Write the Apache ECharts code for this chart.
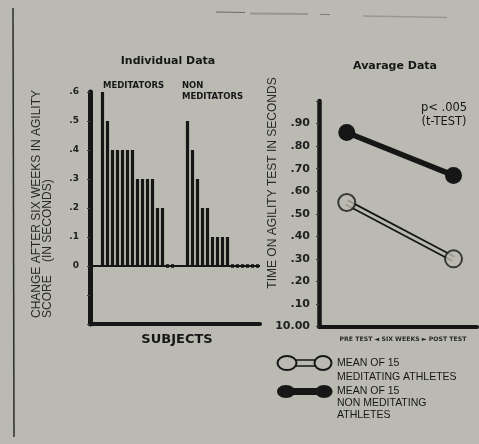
<!DOCTYPE html>
<html>
<head>
<meta charset="utf-8">
<script src="https://cdn.jsdelivr.net/npm/echarts@6/dist/echarts.min.js"></script>
<style>
  html, body { margin: 0; padding: 0; background: #bbbab2; }
  #chart { width: 479px; height: 444px; }
</style>
</head>
<body>
<div id="chart"></div>
<script>
// Change in agility score after six weeks, one bar per subject (seconds)
const meditators = [0.6, 0.5, 0.4, 0.4, 0.4, 0.4, 0.4, 0.3, 0.3, 0.3, 0.3, 0.2, 0.2, 0, 0];
const nonMeditators = [0.5, 0.4, 0.3, 0.2, 0.2, 0.1, 0.1, 0.1, 0.1, 0, 0, 0, 0, 0, 0];
const changeTicks = ['0', '.1', '.2', '.3', '.4', '.5', '.6'];

// Group mean agility-test time, in seconds above 10.00
const phases = ['PRE TEST', 'POST TEST'];
const meanMeditating = [0.55, 0.30];
const meanNonMeditating = [0.86, 0.67];
const timeTicks = ['10.00', '.10', '.20', '.30', '.40', '.50', '.60', '.70', '.80', '.90'];

const BG = '#bbbab2';
const INK = '#161616';
const LEAD_SLOTS = 2;   // empty slots before the first group
const GROUP_GAP = 2;    // empty slots between the two groups

// One category slot per subject, with padding slots around the groups
const slotNames = [];
const slotValues = [];
for (let i = 0; i < LEAD_SLOTS; i++) { slotNames.push('lead' + i); slotValues.push('-'); }
meditators.forEach((v, i) => { slotNames.push('M' + (i + 1)); slotValues.push(v); });
for (let i = 0; i < GROUP_GAP; i++) { slotNames.push('gap' + i); slotValues.push('-'); }
nonMeditators.forEach((v, i) => { slotNames.push('N' + (i + 1)); slotValues.push(v); });
const zeroMarks = slotValues.map(v => (v === 0 ? 0 : '-'));

// x position 0 = pre test, 1 = post test
const toPairs = arr => arr.map((v, i) => [i, v]);
const medPairs = toPairs(meanMeditating);
const nonMedPairs = toPairs(meanNonMeditating);

const chart = echarts.init(document.getElementById('chart'), null, { renderer: 'canvas' });

const txt = (text, x, y, o) => ({
  type: 'text', x, y, rotation: o.rotation || 0, silent: true,
  style: Object.assign({
    text, fill: INK, fontFamily: 'DejaVu Sans', fontSize: 11, fontWeight: 'normal',
    align: o.align || 'center', verticalAlign: 'middle',
    textAlign: o.align || 'center', textVerticalAlign: 'middle'
  }, o.style || {})
});

const option = {
  backgroundColor: BG,
  animation: false,
  grid: [
    { left: 90, top: 92, width: 170, height: 232 },
    { left: 319, top: 101, right: 2, height: 225.5 }
  ],
  xAxis: [
    {
      gridIndex: 0, type: 'category', data: slotNames, position: 'bottom',
      axisLine: { onZero: false, lineStyle: { color: INK, width: 4 } },
      axisTick: { show: false }, axisLabel: { show: false }, splitLine: { show: false }
    },
    {
      gridIndex: 1, type: 'value', min: -0.26, max: 1.22,
      axisLine: { onZero: false, lineStyle: { color: INK, width: 4 } },
      axisTick: { show: false }, axisLabel: { show: false }, splitLine: { show: false }
    }
  ],
  yAxis: [
    {
      gridIndex: 0, type: 'value', min: -0.2, max: 0.6, interval: 0.1,
      axisLine: { show: true, onZero: false, lineStyle: { color: INK, width: 5 } },
      axisTick: { show: true, length: 3, lineStyle: { color: '#3a3a3a', width: 1 } },
      splitLine: { show: false },
      axisLabel: {
        margin: 11, color: '#202020', fontFamily: 'DejaVu Sans', fontWeight: 'bold', fontSize: 9,
        formatter: v => { const k = Math.round(v * 10); return k >= 0 ? (changeTicks[k] || '') : ''; }
      }
    },
    {
      gridIndex: 1, type: 'value', min: 0, max: 1, interval: 0.1,
      axisLine: { show: true, onZero: false, lineStyle: { color: INK, width: 4.5 } },
      axisTick: { show: true, length: 3, lineStyle: { color: '#3a3a3a', width: 1 } },
      splitLine: { show: false },
      axisLabel: {
        margin: 9, color: '#202020', fontFamily: 'DejaVu Sans', fontWeight: 'bold', fontSize: 11,
        formatter: v => timeTicks[Math.round(v * 10)] || ''
      }
    }
  ],
  series: [
    {
      name: 'change', type: 'bar', xAxisIndex: 0, yAxisIndex: 0, data: slotValues,
      barWidth: 3.2, itemStyle: { color: INK }, z: 3,
      markLine: {
        silent: true, symbol: 'none', label: { show: false },
        lineStyle: { color: INK, width: 2, type: 'solid' },
        data: [{ yAxis: 0 }]
      }
    },
    {
      name: 'no change', type: 'scatter', xAxisIndex: 0, yAxisIndex: 0, data: zeroMarks,
      symbol: 'rect', symbolSize: [3, 4], itemStyle: { color: INK }, z: 4
    },
    {
      name: 'meditating outline', type: 'line', xAxisIndex: 1, yAxisIndex: 1, data: medPairs,
      symbol: 'none', lineStyle: { color: INK, width: 6.5 }, z: 2
    },
    {
      name: 'meditating inner', type: 'line', xAxisIndex: 1, yAxisIndex: 1, data: medPairs,
      symbol: 'none', lineStyle: { color: BG, width: 3 }, z: 3
    },
    {
      name: 'meditating ends', type: 'scatter', xAxisIndex: 1, yAxisIndex: 1, data: medPairs,
      symbol: 'circle', symbolSize: 17,
      itemStyle: { color: BG, borderColor: INK, borderWidth: 2 }, z: 4
    },
    {
      name: 'non meditating', type: 'line', xAxisIndex: 1, yAxisIndex: 1, data: nonMedPairs,
      symbol: 'circle', symbolSize: 17, showSymbol: true,
      lineStyle: { color: INK, width: 5.5 }, itemStyle: { color: INK }, z: 4
    }
  ],
  graphic: [
    // page margin rule and faint remnants of the line above
    { type: 'line', silent: true, shape: { x1: 13, y1: 8, x2: 14, y2: 437 }, style: { stroke: '#2c2c2c', lineWidth: 1.5 } },
    { type: 'line', silent: true, shape: { x1: 216, y1: 12, x2: 245, y2: 12.5 }, style: { stroke: '#555', lineWidth: 1, opacity: 0.8 } },
    { type: 'line', silent: true, shape: { x1: 250, y1: 13.5, x2: 308, y2: 14 }, style: { stroke: '#888780', lineWidth: 2, opacity: 0.7 } },
    { type: 'line', silent: true, shape: { x1: 320, y1: 14.5, x2: 330, y2: 14.5 }, style: { stroke: '#6e6d68', lineWidth: 1, opacity: 0.8 } },
    { type: 'line', silent: true, shape: { x1: 363, y1: 16, x2: 447, y2: 17.5 }, style: { stroke: '#8a8983', lineWidth: 1.6, opacity: 0.7 } },

    // left panel texts
    txt('Individual Data', 168, 61, { style: { fontWeight: 'bold', fontSize: 11 } }),
    txt('MEDITATORS', 103, 86, { align: 'left', style: { fontWeight: 'bold', fontSize: 8.5 } }),
    txt('NON', 182, 86, { align: 'left', style: { fontWeight: 'bold', fontSize: 8.5 } }),
    txt('MEDITATORS', 182, 97, { align: 'left', style: { fontWeight: 'bold', fontSize: 8.5 } }),
    txt('SUBJECTS', 177, 340, { style: { fontWeight: 'bold', fontSize: 13 } }),
    txt('CHANGE AFTER SIX WEEKS IN AGILITY', 37, 318, { align: 'left', rotation: Math.PI / 2, style: { fontFamily: 'Liberation Sans', fontSize: 12, fill: '#2a2a2a' } }),
    txt('SCORE    (IN SECONDS)', 48, 318, { align: 'left', rotation: Math.PI / 2, style: { fontFamily: 'Liberation Sans', fontSize: 12, fill: '#2a2a2a' } }),

    // right panel texts
    txt('Avarage Data', 395, 66, { style: { fontWeight: 'bold', fontSize: 11 } }),
    txt('p< .005', 444, 108, { style: { fontSize: 11.5 } }),
    txt('(t-TEST)', 444, 122, { style: { fontSize: 11.5 } }),
    txt('TIME ON AGILITY TEST IN SECONDS', 273, 183, { rotation: Math.PI / 2, style: { fontFamily: 'Liberation Sans', fontSize: 12, fill: '#2a2a2a' } }),
    txt(phases[0] + ' \u25C4 SIX WEEKS \u25BA ' + phases[1], 403, 339, { style: { fontWeight: 'bold', fontSize: 6.2, fill: '#2a2a2a' } }),

    // legend: open dumbbell
    { type: 'rect', silent: true, shape: { x: 294, y: 360, width: 24, height: 6 }, style: { fill: BG, stroke: INK, lineWidth: 1.6 } },
    { type: 'ellipse', silent: true, shape: { cx: 287, cy: 363, rx: 9.5, ry: 7 }, style: { fill: BG, stroke: INK, lineWidth: 2 } },
    { type: 'ellipse', silent: true, shape: { cx: 323, cy: 363, rx: 8.5, ry: 7 }, style: { fill: BG, stroke: INK, lineWidth: 2 } },
    txt('MEAN OF 15', 337, 363, { align: 'left', style: { fontFamily: 'Liberation Sans', fontSize: 10.5 } }),
    txt('MEDITATING ATHLETES', 337, 377, { align: 'left', style: { fontFamily: 'Liberation Sans', fontSize: 10.5 } }),

    // legend: filled dumbbell
    { type: 'rect', silent: true, shape: { x: 290, y: 388, width: 30, height: 7 }, style: { fill: INK } },
    { type: 'ellipse', silent: true, shape: { cx: 286, cy: 391.5, rx: 9, ry: 6.5 }, style: { fill: INK } },
    { type: 'ellipse', silent: true, shape: { cx: 324, cy: 391.5, rx: 8.5, ry: 6.5 }, style: { fill: INK } },
    txt('MEAN OF 15', 337, 391, { align: 'left', style: { fontFamily: 'Liberation Sans', fontSize: 10.5 } }),
    txt('NON MEDITATING', 337, 403, { align: 'left', style: { fontFamily: 'Liberation Sans', fontSize: 10.5 } }),
    txt('ATHLETES', 337, 415, { align: 'left', style: { fontFamily: 'Liberation Sans', fontSize: 10.5 } })
  ]
};

chart.setOption(option);
</script>
</body>
</html>
